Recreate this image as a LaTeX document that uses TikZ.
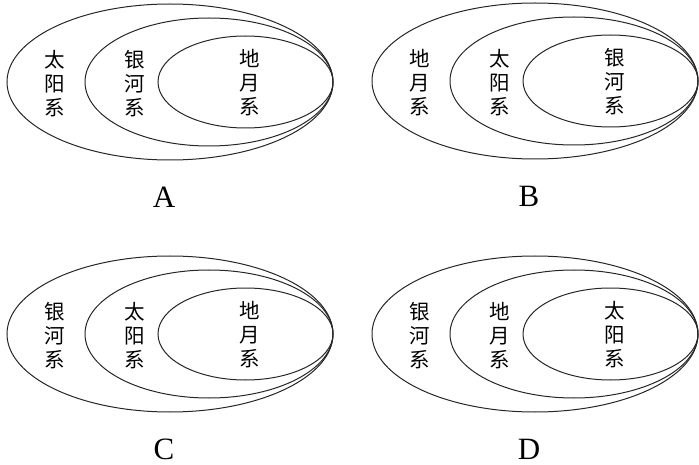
\documentclass[tikz,border=0pt]{standalone}
\usepackage{fontspec}
\setmainfont{Liberation Serif}
\newfontfamily\cjk{Noto Sans CJK SC}
\usepackage{tikz}
\usetikzlibrary{positioning}

\begin{document}
\begin{tikzpicture}[x=1pt, y=-1pt,
    orbit/.style={draw=black!85, line width=1pt},
    vlabel/.style={align=center, inner sep=0pt,
                font=\cjk\fontsize{20.5}{24}\selectfont},
    choice/.style={font=\fontsize{31}{31}\selectfont, inner sep=0pt}]
  \useasboundingbox (0,0) rectangle (699,465);
  % one panel per option: outer, middle, inner system
  \foreach \lab/\ox/\oy/\ta/\tb/\tc in {
      A/7/82/{太\\阳\\系}/{银\\河\\系}/{地\\月\\系},
      B/372/81/{地\\月\\系}/{太\\阳\\系}/{银\\河\\系},
      C/7/334/{银\\河\\系}/{太\\阳\\系}/{地\\月\\系},
      D/372/334/{银\\河\\系}/{地\\月\\系}/{太\\阳\\系}} {
    \begin{scope}[shift={(\ox,\oy)}]
      \draw[orbit] (163,0) ellipse [x radius=163, y radius=78];
      \draw[orbit] (202,0) ellipse [x radius=124, y radius=64];
      \draw[orbit] (238.5,0) ellipse [x radius=87.5, y radius=46];
      \node[vlabel] (\lab-outer) at (48,2) {\ta};
      \node[vlabel] (\lab-middle) at (128,2) {\tb};
      \node[vlabel] (\lab-inner) at (243,1) {\tc};
      \node[choice] (\lab-name) at (157,115) {\lab};
    \end{scope}
  }
\end{tikzpicture}
\end{document}
